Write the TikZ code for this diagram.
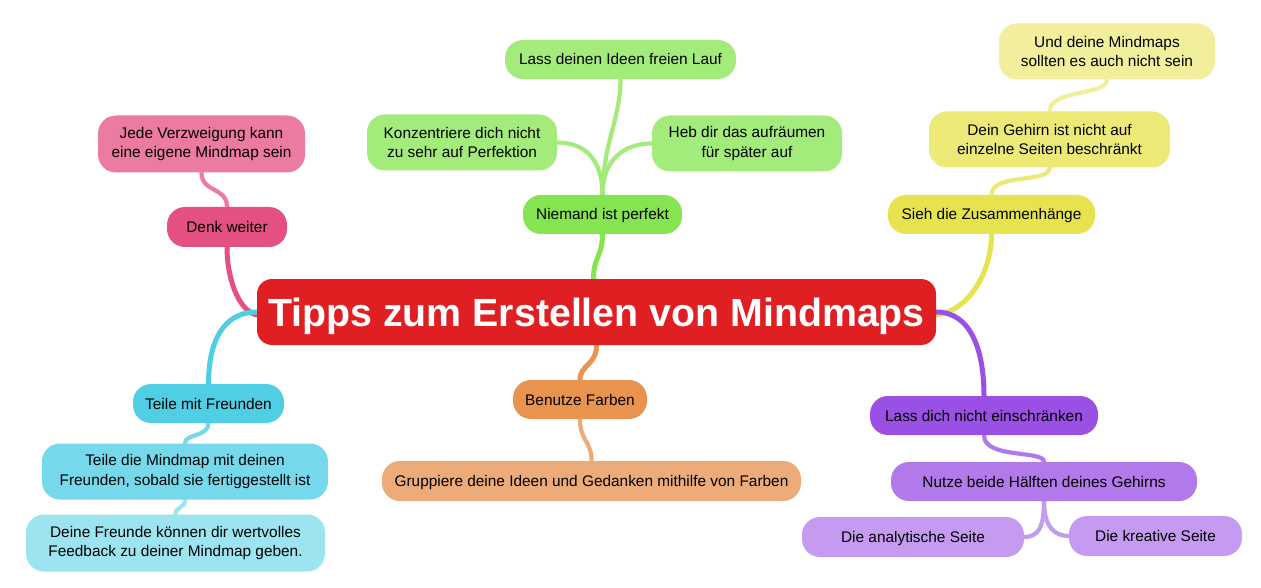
\documentclass[tikz,border=0pt]{standalone}
\usepackage{fontspec}
\setmainfont{Liberation Sans}
\usetikzlibrary{backgrounds}
\definecolor{cred}{HTML}{E01F23}
\definecolor{gA}{HTML}{86E351}
\definecolor{gB}{HTML}{A3EB7B}
\definecolor{yA}{HTML}{E6E34E}
\definecolor{yB}{HTML}{ECE977}
\definecolor{yC}{HTML}{F1EF9C}
\definecolor{pA}{HTML}{E55083}
\definecolor{pB}{HTML}{EC7BA1}
\definecolor{cA}{HTML}{50CEE4}
\definecolor{cB}{HTML}{76D9EB}
\definecolor{cC}{HTML}{9BE4F0}
\definecolor{vA}{HTML}{9A50E4}
\definecolor{vB}{HTML}{B179EA}
\definecolor{vC}{HTML}{C59BF1}
\definecolor{oA}{HTML}{E8944F}
\definecolor{oB}{HTML}{EDAB79}
\tikzset{
  mm/.style={rounded corners=18pt, inner sep=0pt, align=center, text=black,
    font=\fontsize{15.4}{19.5}\selectfont},
  one/.style={text height=11pt, text depth=0pt},
  rootbox/.style={rounded corners=15pt, inner sep=0pt, fill=cred, text=white,
    font=\fontsize{39.3}{44}\selectfont\bfseries, text height=28.3pt, text depth=0pt},
  linkA/.style={line width=5pt, line cap=round},
  linkB/.style={line width=4.2pt, line cap=round},
}
\begin{document}
\begin{tikzpicture}[x=1pt,y=-1pt]
\useasboundingbox (0,0) rectangle (1261,588);
% nodes
\node[rootbox, minimum width=679pt, minimum height=66pt] (root) at (596.5,312) {Tipps zum Erstellen von Mindmaps};
\node[mm, one, fill=gA, minimum width=159pt, minimum height=39pt] (niem) at (602.5,214.5) {Niemand ist perfekt};
\node[mm, one, fill=gB, minimum width=231pt, minimum height=39pt] (lass) at (620.5,59.5) {Lass deinen Ideen freien Lauf};
\node[mm, fill=gB, minimum width=190pt, minimum height=56pt] (konz) at (462,142.5) {Konzentriere dich nicht\\zu sehr auf Perfektion};
\node[mm, fill=gB, minimum width=190pt, minimum height=56pt] (heb) at (747,143.5) {Heb dir das aufräumen\\für später auf};
\node[mm, one, fill=yA, minimum width=207pt, minimum height=39pt] (sieh) at (991.5,214.5) {Sieh die Zusammenhänge};
\node[mm, fill=yB, minimum width=241pt, minimum height=56pt] (gehirn) at (1049.5,139.5) {Dein Gehirn ist nicht auf\\einzelne Seiten beschränkt};
\node[mm, fill=yC, minimum width=216pt, minimum height=56pt] (und) at (1107,51.5) {Und deine Mindmaps\\sollten es auch nicht sein};
\node[mm, one, fill=pA, minimum width=120pt, minimum height=40pt] (denk) at (227,227) {Denk weiter};
\node[mm, fill=pB, minimum width=207pt, minimum height=57pt] (jede) at (201.5,144) {Jede Verzweigung kann\\eine eigene Mindmap sein};
\node[mm, one, fill=cA, minimum width=151pt, minimum height=39pt] (teilemit) at (208.5,403.5) {Teile mit Freunden};
\node[mm, fill=cB, minimum width=286pt, minimum height=56pt] (teiledie) at (185,471.5) {Teile die Mindmap mit deinen\\Freunden, sobald sie fertiggestellt ist};
\node[mm, fill=cC, minimum width=299pt, minimum height=57pt] (deine) at (175.5,543) {Deine Freunde können dir wertvolles\\Feedback zu deiner Mindmap geben.};
\node[mm, one, fill=oA, minimum width=134pt, minimum height=39pt] (benutze) at (580,399.5) {Benutze Farben};
\node[mm, one, fill=oB, minimum width=419pt, minimum height=40pt] (grupp) at (591.5,481) {Gruppiere deine Ideen und Gedanken mithilfe von Farben};
\node[mm, one, fill=vA, minimum width=228pt, minimum height=39pt] (lassdich) at (984,415.5) {Lass dich nicht einschränken};
\node[mm, one, fill=vB, minimum width=306pt, minimum height=39pt] (nutze) at (1044,481.5) {Nutze beide Hälften deines Gehirns};
\node[mm, one, fill=vC, minimum width=222pt, minimum height=40pt] (analyt) at (913,537) {Die analytische Seite};
\node[mm, one, fill=vC, minimum width=173pt, minimum height=40pt] (kreativ) at (1155.5,536) {Die kreative Seite};
% connectors
\begin{scope}[on background layer]
\fill[white] (0,0) rectangle (1261,588);
\draw[linkA, pA] ([yshift=-3pt]root.west) .. controls +(-18,-4) and +(0,32) .. (denk.south);
\draw[linkA, cA] (root.west) .. controls +(-35,0) and +(0,-40) .. (teilemit.north);
\draw[linkA, yA] ([yshift=-3pt]root.east) .. controls +(35,-5) and +(0,35) .. (sieh.south);
\draw[linkA, vA] (root.east) .. controls +(35,0) and +(0,-45) .. (lassdich.north);
\draw[linkA, gA] ([xshift=-3pt]root.north) .. controls +(0,-22) and +(0,22) .. (niem.south);
\draw[linkA, oA] (root.south) .. controls +(0,20) and +(0,-15) .. (benutze.north);
\draw[linkB, gB] (niem.north) .. controls +(0,-50) and +(0,40) .. (lass.south);
\draw[linkB, gB] (niem.north) .. controls +(0,-35) and +(28,0) .. (konz.east);
\draw[linkB, gB] (niem.north) .. controls +(0,-35) and +(-28,0) .. (heb.west);
\draw[linkB, yB] (sieh.north) .. controls +(0,-22) and +(0,16) .. (gehirn.south);
\draw[linkB, yC] (gehirn.north) .. controls +(0,-22) and +(0,16) .. (und.south);
\draw[linkB, pB] (denk.north) .. controls +(0,-20) and +(0,20) .. (jede.south);
\draw[linkB, cB] (teilemit.south) .. controls +(0,14) and +(0,-10) .. (teiledie.north);
\draw[linkB, cC] (teiledie.south) .. controls +(0,9) and +(0,-8) .. (deine.north);
\draw[linkB, oB] (benutze.south) .. controls +(0,22) and +(0,-20) .. (grupp.north);
\draw[linkB, vB] (lassdich.south) .. controls +(0,24) and +(0,-12) .. (nutze.north);
\draw[linkB, vC] (nutze.south) .. controls +(0,26) and +(14,0) .. (analyt.east);
\draw[linkB, vC] (nutze.south) .. controls +(0,26) and +(-14,0) .. (kreativ.west);
\end{scope}
\end{tikzpicture}
\end{document}
